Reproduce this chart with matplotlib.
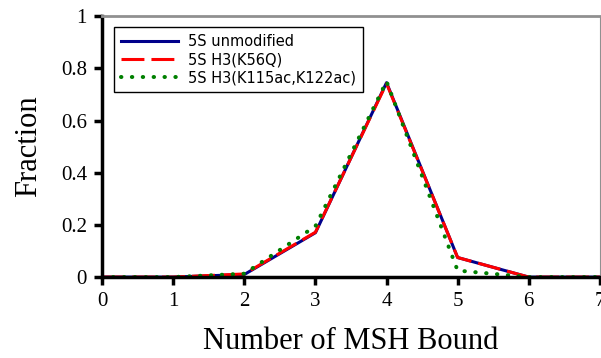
import matplotlib
matplotlib.use('Agg')
import matplotlib.pyplot as plt

n_bound = [0, 1, 2, 3, 4, 5, 6, 7]
unmodified = [0.0, 0.0, 0.01, 0.17, 0.745, 0.075, 0.0, 0.0]
k56q = [0.0, 0.0, 0.012, 0.172, 0.742, 0.075, 0.0, 0.0]
k115ac = [0.0, 0.0, 0.013, 0.195, 0.75, 0.025, 0.0, 0.0]

labels = ['5S unmodified', '5S H3(K56Q)', '5S H3(K115ac,K122ac)']

fig = plt.figure(figsize=(6.01, 3.58), dpi=100)
ax = fig.add_axes([0.170, 0.226, 0.828, 0.729])

ax.plot(n_bound, unmodified, color='#00008b', lw=2.2, label=labels[0])
ax.plot(n_bound, k56q, color='#ff0000', lw=2.2, dashes=(7.5, 2.3), label=labels[1])
ax.plot(n_bound, k115ac, color='#008000', lw=2.9, linestyle=(0, (0.1, 2.6)),
        dash_capstyle='round', label=labels[2])

ax.set_xlim(0, 7)
ax.set_ylim(0, 1)
ax.set_xticks(range(8))
ax.set_yticks([0, 0.2, 0.4, 0.6, 0.8, 1])
ax.set_yticklabels(['0', '0.2', '0.4', '0.6', '0.8', '1'])

serif = 'Liberation Serif'
for lab in ax.get_xticklabels() + ax.get_yticklabels():
    lab.set_fontfamily(serif)
    lab.set_fontsize(15)

ax.set_xlabel('Number of MSH Bound', fontfamily=serif, fontsize=22, labelpad=11)
ax.set_ylabel('Fraction', fontfamily=serif, fontsize=22, labelpad=13)

for side in ['left', 'bottom']:
    ax.spines[side].set_linewidth(2.5)
    ax.spines[side].set_color('black')
ax.spines['top'].set_color('#909090')
ax.spines['top'].set_linewidth(2)
ax.spines['right'].set_color('#909090')
ax.spines['right'].set_linewidth(0.8)
ax.tick_params(top=False, right=False, direction='out', length=6, width=2.5, pad=5)

leg = ax.legend(loc='upper left', bbox_to_anchor=(0.01, 0.985), fontsize=10.5,
                fancybox=False, edgecolor='black', framealpha=1,
                handlelength=3.9, handletextpad=0.7, borderpad=0.45,
                labelspacing=0.22)
leg.get_frame().set_linewidth(1)

fig.savefig('out.png', dpi=100)
